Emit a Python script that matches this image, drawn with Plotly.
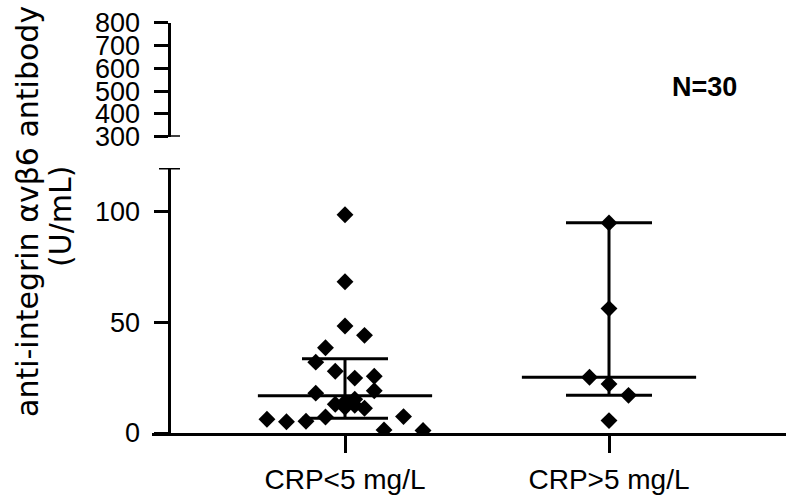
import plotly.graph_objects as go

# ---------------- data ----------------
groups = ["CRP<5 mg/L", "CRP>5 mg/L"]
group_pos = [1, 2]

low_values = [98.6, 68.3, 48.3, 44.1, 38.5, 32.0, 27.9, 25.6, 24.8, 19.1, 18.0, 15.3,
              14.0, 13.0, 12.5, 11.6, 11.2, 7.4, 7.2, 6.2, 5.3, 5.1, 1.4, 1.1]
low_slots = [0, 0, 0, 1, -1, -1.5, -0.5, 1.5, 0.5, 1.5, -1.5, 0.5,
             0, -0.5, 0.5, 0, 1, 3, -1, -4, -2, -3, 2, 4]

high_values = [94.9, 56.2, 25.2, 22.1, 17.0, 5.6]
high_slots = [0, 0, -1, 0, 1, 0]

medians = [16.8, 25.2]
q1 = [6.7, 17.0]
q3 = [33.5, 95.0]

lower_ticks = [0, 50, 100]
upper_ticks = [300, 400, 500, 600, 700, 800]

# ---------------- geometry helpers ----------------
W, H = 794, 496
SLOT = 0.0739      # jitter slot width in category units
MED_HALF = 0.33    # half width of the median line
CAP_PX = 43        # half width of the quartile caps (px)

fig = go.Figure()

# median lines
mx, my = [], []
for g, m in zip(group_pos, medians):
    mx += [g - MED_HALF, g + MED_HALF, None]
    my += [m, m, None]
fig.add_trace(go.Scatter(x=mx, y=my, mode="lines", line=dict(color="black", width=3),
                         hoverinfo="skip", showlegend=False, xaxis="x", yaxis="y"))

# interquartile bars
fig.add_trace(go.Scatter(
    x=group_pos, y=medians, mode="markers", marker=dict(size=1, opacity=0),
    error_y=dict(type="data", symmetric=False,
                 array=[a - m for a, m in zip(q3, medians)],
                 arrayminus=[m - b for b, m in zip(q1, medians)],
                 color="black", thickness=3, width=CAP_PX),
    showlegend=False, hoverinfo="skip", xaxis="x", yaxis="y"))

# points
for g, vals, slots in [(group_pos[0], low_values, low_slots),
                       (group_pos[1], high_values, high_slots)]:
    fig.add_trace(go.Scatter(
        x=[g + s * SLOT for s in slots], y=vals, mode="markers",
        marker=dict(symbol="diamond", size=13, color="black", line=dict(width=0)),
        showlegend=False, xaxis="x", yaxis="y"))

def py(pix):
    return 1 - pix / H

def px(pix):
    return pix / W

axis_x_left, axis_x_right = 152, 786
yaxis_pos = 168.5

font_axis = dict(family="Liberation Sans, Arial, sans-serif", size=27, color="black")
font_xtick = dict(family="Liberation Sans, Arial, sans-serif", size=28, color="black")

fig.update_layout(
    template="none",
    width=W, height=H,
    margin=dict(l=0, r=0, t=0, b=0, pad=0),
    paper_bgcolor="white", plot_bgcolor="white",
    showlegend=False,
    xaxis=dict(
        domain=[px(axis_x_left), px(axis_x_right)],
        range=[1 - (345 - axis_x_left) / 264, 2 + (axis_x_right - 609) / 264],
        tickvals=group_pos, ticktext=groups,
        showline=True, linecolor="black", linewidth=3,
        ticks="outside", ticklen=17, tickwidth=3, tickcolor="black",
        showgrid=False, zeroline=False, anchor="y", automargin=False,
        tickfont=font_xtick, ticklabelstandoff=2,
    ),
    yaxis=dict(
        domain=[py(433), py(168)],
        range=[0, 119.7],
        tickvals=lower_ticks,
        anchor="free", position=px(yaxis_pos), automargin=False,
        showline=True, linecolor="black", linewidth=3,
        ticks="outside", ticklen=14, tickwidth=3, tickcolor="black",
        showgrid=False, zeroline=False,
        tickfont=font_axis, ticklabelstandoff=8,
    ),
    yaxis2=dict(
        domain=[py(136.7), py(22.7)],
        range=[300, 800],
        tickvals=upper_ticks,
        anchor="free", position=px(yaxis_pos), automargin=False,
        showline=True, linecolor="black", linewidth=3,
        ticks="outside", ticklen=14, tickwidth=3, tickcolor="black",
        showgrid=False, zeroline=False,
        tickfont=font_axis, ticklabelstandoff=8,
    ),
)

# break caps on the y axis
fig.add_shape(type="line", xref="paper", yref="y", x0=px(159), x1=px(180), y0=119.7, y1=119.7,
              line=dict(color="black", width=3))
fig.add_shape(type="line", xref="paper", yref="y2", x0=px(159), x1=px(180), y0=300, y1=300,
              line=dict(color="black", width=3))

# y axis title (two lines)
title_font = dict(family="DejaVu Sans, sans-serif", size=30, color="black")
fig.add_annotation(text="anti-integrin αvβ6 antibody", xref="paper", yref="paper",
                   x=px(27), y=py(212), textangle=-90, showarrow=False,
                   xanchor="center", yanchor="middle", font=title_font)
fig.add_annotation(text="(U/mL)", xref="paper", yref="paper",
                   x=px(60), y=py(217), textangle=-90, showarrow=False,
                   xanchor="center", yanchor="middle", font=title_font)

# N label
fig.add_annotation(text="<b>N=30</b>", xref="paper", yref="paper",
                   x=px(704), y=py(87), showarrow=False, xanchor="center", yanchor="middle",
                   font=dict(family="Liberation Sans, Arial, sans-serif", size=27, color="black"))

fig.write_html("out.html")
